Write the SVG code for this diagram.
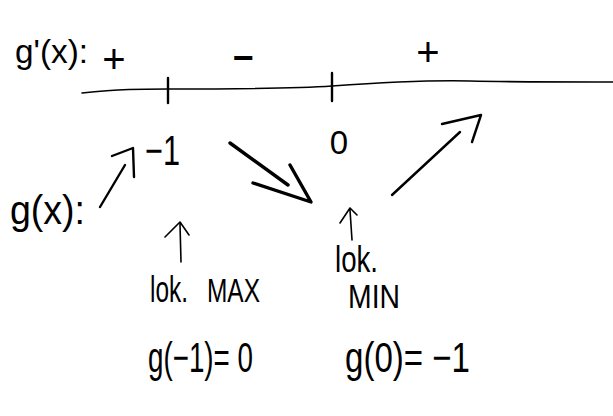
<svg xmlns="http://www.w3.org/2000/svg" width="613" height="416" viewBox="0 0 613 416">
<style>
  text { font-family: "Liberation Sans", Arial, sans-serif; fill: #000; }
  .ln { fill: none; stroke: #000; stroke-linecap: round; stroke-linejoin: round; }
  .thin { stroke-width: 1.6; }
  .mid { stroke-width: 2.4; }
  .bold { stroke-width: 3.4; }
</style>
<rect width="613" height="416" fill="#fff"/>

<g id="axis">
  <path class="ln thin" d="M82,93 C120,89 140,89 168,89 S290,89 332,86 S430,80 470,81 S580,82 613,82"/>
  <path class="ln mid" d="M168,78 L168,103 M332,73 L332,101"/>
</g>

<g id="label-gprime"><text x="15" y="63" font-size="34" textLength="73" lengthAdjust="spacingAndGlyphs">g'(x):</text></g>
<g id="sign-1"><text x="114" y="73" font-size="40" text-anchor="middle">+</text></g>
<g id="sign-2"><text x="243" y="70" font-size="36" font-weight="bold" text-anchor="middle">−</text></g>
<g id="sign-3"><text x="428" y="66" font-size="40" text-anchor="middle">+</text></g>

<g id="point-m1"><text x="145" y="165" font-size="42" textLength="35" lengthAdjust="spacingAndGlyphs">−1</text></g>
<g id="point-0"><text x="339" y="154" font-size="33" text-anchor="middle">0</text></g>

<g id="label-g"><text x="10" y="224" font-size="40" textLength="75" lengthAdjust="spacingAndGlyphs">g(x):</text></g>

<g id="max-label">
  <text x="150" y="302" font-size="36" textLength="38" lengthAdjust="spacingAndGlyphs">lok.</text>
  <text x="207" y="302" font-size="33" textLength="53" lengthAdjust="spacingAndGlyphs">MAX</text>
</g>
<g id="min-label">
  <text x="335" y="272" font-size="36" textLength="43" lengthAdjust="spacingAndGlyphs">lok.</text>
  <text x="348" y="308" font-size="34" textLength="52" lengthAdjust="spacingAndGlyphs">MIN</text>
</g>

<g id="value-max"><text x="148" y="372" font-size="42" textLength="105" lengthAdjust="spacingAndGlyphs">g(−1)= 0</text></g>
<g id="value-min"><text x="345" y="372" font-size="42" textLength="125" lengthAdjust="spacingAndGlyphs">g(0)= −1</text></g>

<g id="connectors">
  <path class="ln mid" d="M100,207 L125,165 M112,156 L133,148 L134,177"/>
  <path class="ln bold" d="M230,143 L288,185 M253,183 L311,202 L290,165"/>
  <path class="ln mid" d="M392,195 L460,132 M442,124 L481,115 L472,142"/>
  <path class="ln thin" d="M180,224 L181,262 M165,237 L180,222 L189,235"/>
  <path class="ln thin" d="M350,210 L352,240 M340,223 L350,208 L357,215"/>
</g>
</svg>
